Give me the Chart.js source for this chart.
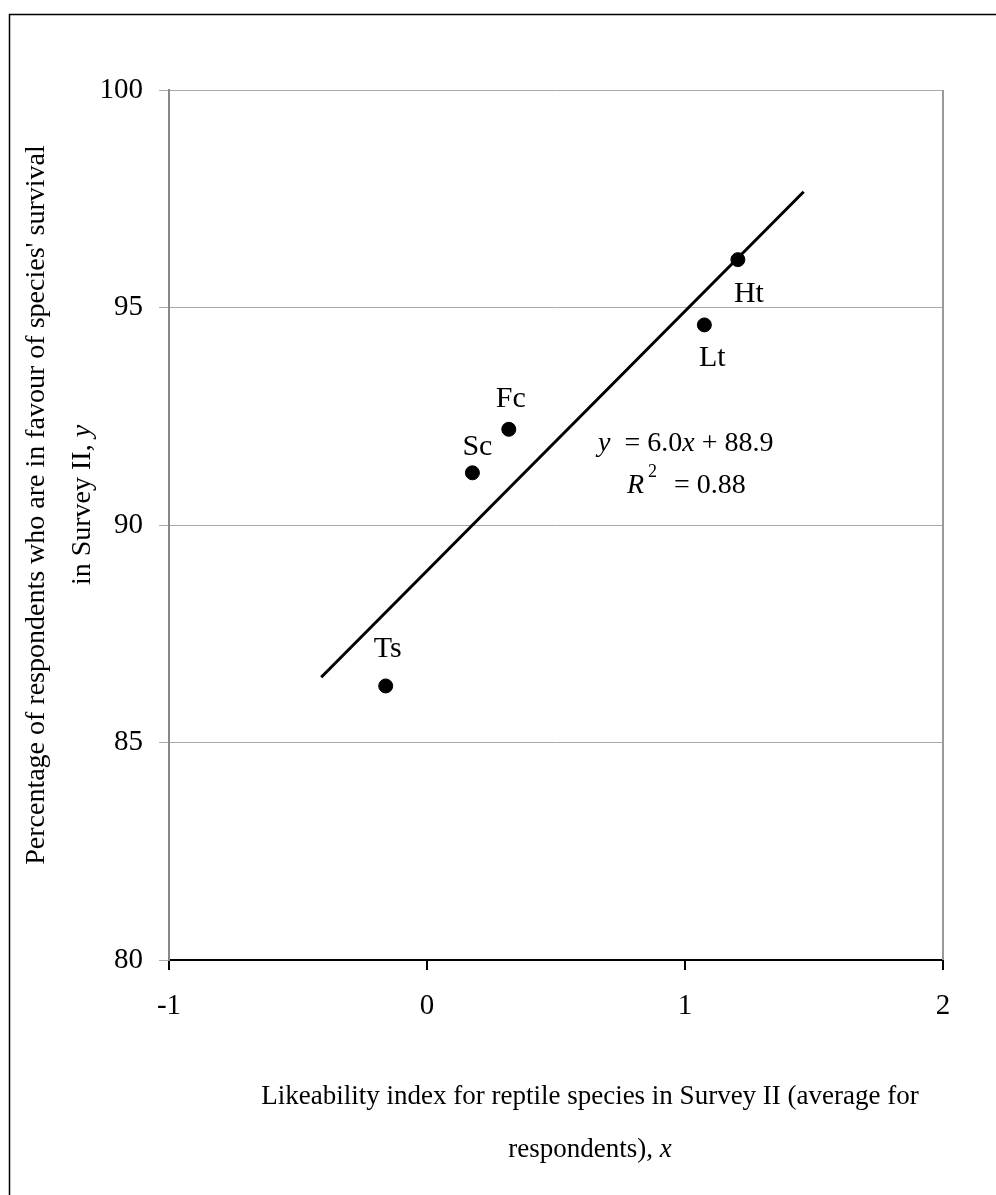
<!DOCTYPE html>
<html lang="en">
<head>
  <meta charset="UTF-8" />
  <title>Likeability vs support for survival</title>
  <style>
    * { margin: 0; padding: 0; }
    body { background: #fff; width: 996px; height: 1195px; overflow: hidden; }
    canvas { display: block; }
  </style>
</head>
<body>
  <canvas id="chart" width="996" height="1195"></canvas>
  <script src="https://cdn.jsdelivr.net/npm/chart.js"></script>
  <script>
    // values
    const species = ["Ts", "Sc", "Fc", "Lt", "Ht"];
    const likeability = [-0.16, 0.176, 0.317, 1.075, 1.205];
    const favourPct = [86.3, 91.2, 92.2, 94.6, 96.1];

    // trend line end points as drawn
    const trendX = [-0.41, 1.46];
    const trendY = [86.5, 97.66];

    const xTicks = [-1, 0, 1, 2];
    const yTicks = [80, 85, 90, 95, 100];

    // label placement relative to each point (px), same order as species
    const labelOffset = [[2, -37], [5, -26], [2, -30], [8, 33], [11, 34]];

    const serif = '"Liberation Serif", "Times New Roman", serif';

    function drawRuns(ctx, runs, x, y, size, align) {
      let total = 0;
      runs.forEach(r => {
        ctx.font = (r.i ? 'italic ' : '') + size + 'px ' + serif;
        r.w = ctx.measureText(r.t).width;
        total += r.w;
      });
      let cx = align === 'center' ? x - total / 2 : x;
      runs.forEach(r => {
        ctx.font = (r.i ? 'italic ' : '') + size + 'px ' + serif;
        ctx.textAlign = 'left';
        ctx.fillText(r.t, cx, y);
        cx += r.w;
      });
    }

    const extras = {
      id: 'extras',
      afterDraw(chart) {
        const ctx = chart.ctx, a = chart.chartArea;
        const xs = chart.scales.x, ys = chart.scales.y;
        ctx.save();

        // right edge of plot area
        ctx.strokeStyle = '#999';
        ctx.lineWidth = 2;
        ctx.beginPath();
        ctx.moveTo(a.right, a.top);
        ctx.lineTo(a.right, a.bottom);
        ctx.stroke();

        // point labels
        ctx.fillStyle = '#000';
        ctx.font = '30px ' + serif;
        ctx.textAlign = 'center';
        ctx.textBaseline = 'middle';
        species.forEach((s, i) => {
          const [dx, dy] = labelOffset[i];
          ctx.fillText(s, xs.getPixelForValue(likeability[i]) + dx, ys.getPixelForValue(favourPct[i]) + dy);
        });

        // equation
        drawRuns(ctx, [{ t: 'y', i: true }, { t: '  = 6.0' }, { t: 'x', i: true }, { t: ' + 88.9' }], 598, 444, 28, 'left');
        drawRuns(ctx, [{ t: 'R', i: true }], 627, 486, 28, 'left');
        ctx.font = '18px ' + serif;
        ctx.textAlign = 'left';
        ctx.fillText('2', 648, 472);
        drawRuns(ctx, [{ t: ' = 0.88' }], 667, 486, 28, 'left');

        // x axis title
        drawRuns(ctx, [{ t: 'Likeability index for reptile species in Survey II (average for' }], 590, 1097, 27, 'center');
        drawRuns(ctx, [{ t: 'respondents), ' }, { t: 'x', i: true }], 590, 1150, 27, 'center');

        // y axis title
        ctx.save();
        ctx.translate(37, 505);
        ctx.rotate(-Math.PI / 2);
        drawRuns(ctx, [{ t: "Percentage of respondents who are in favour of species' survival" }], 0, 0, 28, 'center');
        ctx.restore();
        ctx.save();
        ctx.translate(83, 505);
        ctx.rotate(-Math.PI / 2);
        drawRuns(ctx, [{ t: 'in Survey II, ' }, { t: 'y', i: true }], 0, 0, 28, 'center');
        ctx.restore();

        // outer frame
        ctx.strokeStyle = '#000';
        ctx.lineWidth = 1.5;
        ctx.strokeRect(9.5, 14.5, 1000, 1200);
        ctx.restore();
      }
    };

    const ctx = document.getElementById('chart').getContext('2d');

    new Chart(ctx, {
      type: 'scatter',
      data: {
        datasets: [
          {
            label: 'Species',
            data: likeability.map((x, i) => ({ x: x, y: favourPct[i] })),
            backgroundColor: '#000',
            borderColor: '#000',
            pointRadius: 7,
            pointHoverRadius: 7,
            order: 1
          },
          {
            label: 'Trend',
            type: 'line',
            data: trendX.map((x, i) => ({ x: x, y: trendY[i] })),
            borderColor: '#000',
            borderWidth: 3,
            pointRadius: 0,
            fill: false,
            order: 2
          }
        ]
      },
      options: {
        responsive: false,
        animation: false,
        events: [],
        layout: { padding: { top: 90, right: 53, left: 0, bottom: 0 } },
        plugins: { legend: { display: false }, tooltip: { enabled: false } },
        scales: {
          x: {
            type: 'linear',
            min: -1, max: 2,
            afterBuildTicks: s => { s.ticks = xTicks.map(v => ({ value: v })); },
            afterFit: s => { s.height = 235; },
            grid: { drawOnChartArea: false, drawTicks: true, tickLength: 10, color: '#000', lineWidth: 2 },
            border: { display: true, color: '#000', width: 2 },
            ticks: { color: '#000', font: { family: serif, size: 29 }, padding: 19, maxRotation: 0 }
          },
          y: {
            type: 'linear',
            min: 80, max: 100,
            afterBuildTicks: s => { s.ticks = yTicks.map(v => ({ value: v })); },
            afterFit: s => { s.width = 169; },
            grid: { color: '#aaa', lineWidth: 1, tickLength: 10 },
            border: { display: true, color: '#888', width: 2 },
            ticks: { color: '#000', font: { family: serif, size: 29 }, padding: 16 }
          }
        }
      },
      plugins: [extras]
    });
  </script>
</body>
</html>
